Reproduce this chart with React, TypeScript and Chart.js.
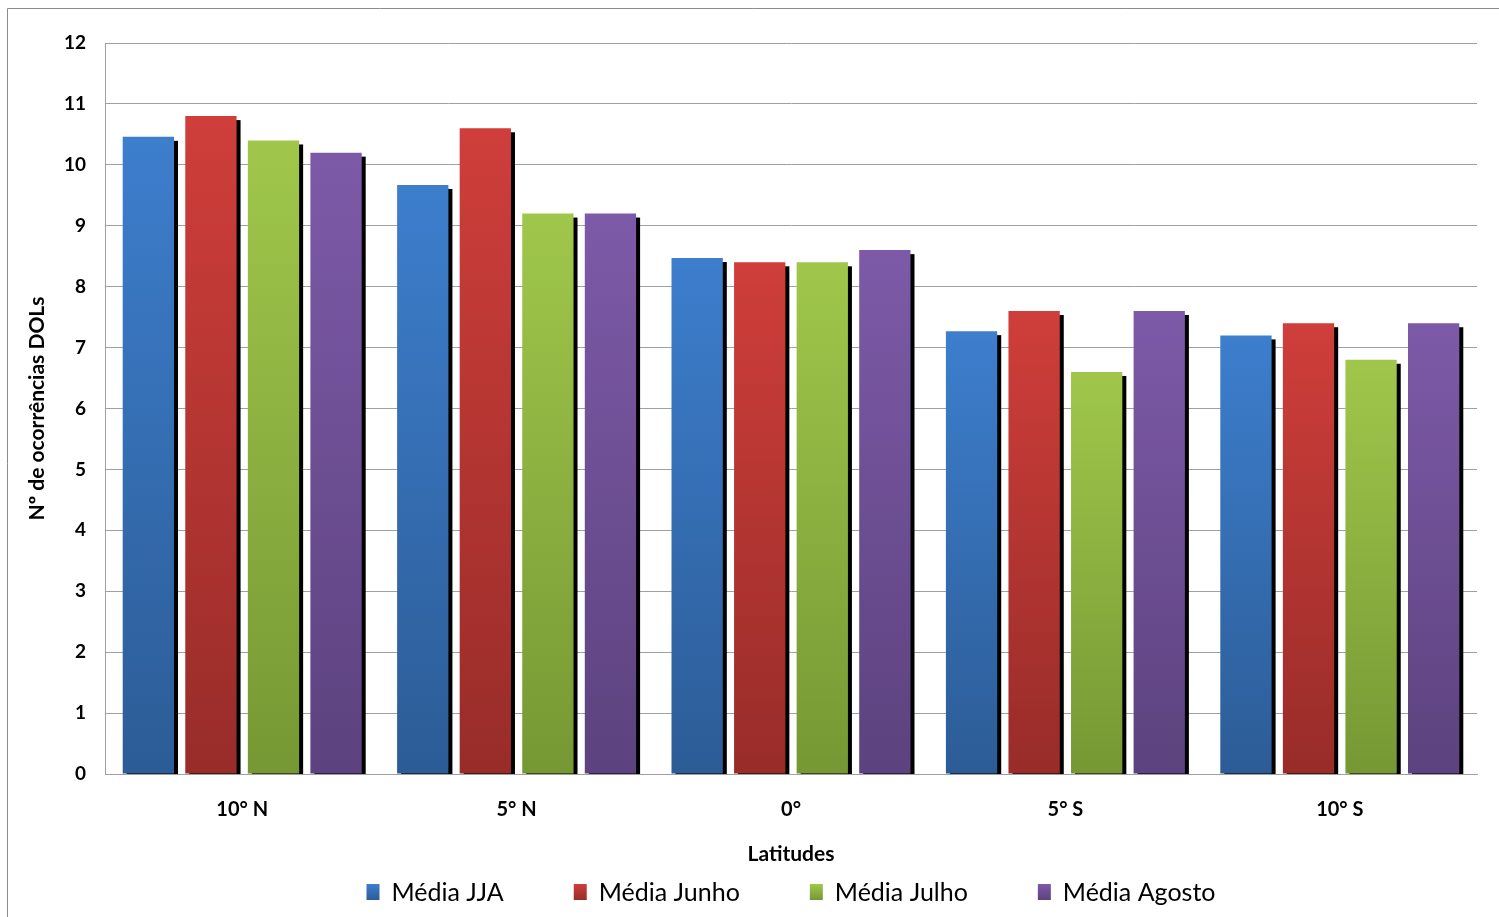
import React, { useEffect, useRef } from "react";
import { Chart, registerables } from "chart.js";

Chart.register(...registerables);

const categories = ["10° N", "5° N", "0°", "5° S", "10° S"];
const seriesNames = ["Média JJA", "Média Junho", "Média Julho", "Média Agosto"];
const mediaJJA = [10.46, 9.67, 8.47, 7.27, 7.2];
const mediaJunho = [10.8, 10.6, 8.4, 7.6, 7.4];
const mediaJulho = [10.4, 9.2, 8.4, 6.6, 6.8];
const mediaAgosto = [10.2, 9.2, 8.6, 7.6, 7.4];
const yTicks = [0, 1, 2, 3, 4, 5, 6, 7, 8, 9, 10, 11, 12];

const seriesValues = [mediaJJA, mediaJunho, mediaJulho, mediaAgosto];
const colorTop = ["#3D7ECD", "#CF3E3A", "#A0C74B", "#7D5AA8"];
const colorBottom = ["#2C5C96", "#982C29", "#769834", "#5C427E"];

const FONT = "Lato, 'Open Sans', sans-serif";

function grad(ctx: CanvasRenderingContext2D, top: number, bottom: number, i: number) {
  const g = ctx.createLinearGradient(0, top, 0, bottom);
  g.addColorStop(0, colorTop[i]);
  g.addColorStop(1, colorBottom[i]);
  return g;
}

const shadowPlugin = {
  id: "barShadow",
  beforeDatasetsDraw(chart: any) {
    const { ctx, chartArea } = chart;
    ctx.save();
    ctx.beginPath();
    ctx.rect(chartArea.left, chartArea.top, chartArea.right - chartArea.left, chartArea.bottom - chartArea.top);
    ctx.clip();
    ctx.fillStyle = "#000000";
    chart.data.datasets.forEach((_d: any, di: number) => {
      const meta = chart.getDatasetMeta(di);
      meta.data.forEach((el: any) => {
        const w = el.width;
        const h = el.base - el.y;
        ctx.fillRect(el.x - w / 2 + 4, el.y + 4, w, h);
      });
    });
    ctx.restore();
  },
};

const framePlugin = {
  id: "frameAndLegend",
  afterDraw(chart: any) {
    const { ctx, chartArea } = chart;
    ctx.save();
    ctx.strokeStyle = "#8C8C8C";
    ctx.lineWidth = 1;
    ctx.beginPath();
    ctx.moveTo(7.5, chart.height + 2);
    ctx.lineTo(7.5, 8.5);
    ctx.lineTo(chart.width + 2, 8.5);
    ctx.stroke();

    // legend
    ctx.font = `25px ${FONT}`;
    ctx.textBaseline = "middle";
    const box = 13;
    const boxH = 16;
    const gapText = 12;
    const gapItem = 70;
    const widths = seriesNames.map((n) => ctx.measureText(n).width);
    let total = 0;
    widths.forEach((w, i) => {
      total += box + gapText + w + (i < widths.length - 1 ? gapItem : 0);
    });
    let x = (chartArea.left + chartArea.right) / 2 - total / 2;
    const cy = 892;
    seriesNames.forEach((n, i) => {
      ctx.fillStyle = grad(ctx, cy - boxH / 2, cy + boxH / 2, i);
      ctx.fillRect(x, cy - boxH / 2, box, boxH);
      ctx.fillStyle = "#000000";
      ctx.fillText(n, x + box + gapText, cy + 1);
      x += box + gapText + widths[i] + gapItem;
    });
    ctx.restore();
  },
};

export default function App() {
  const ref = useRef<HTMLCanvasElement | null>(null);
  useEffect(() => {
    if (!ref.current) return;
    Chart.defaults.font.family = FONT;
    const chart = new Chart(ref.current, {
      type: "bar",
      data: {
        labels: categories,
        datasets: seriesValues.map((vals, i) => ({
          label: seriesNames[i],
          data: vals,
          backgroundColor: (c: any) => {
            const ch = c.chart;
            if (!ch.chartArea || c.parsed == null) return colorTop[i];
            const ys = ch.scales.y;
            const top = ys.getPixelForValue(c.parsed.y);
            const bottom = ys.getPixelForValue(0);
            return grad(ch.ctx, top, bottom, i);
          },
          borderWidth: 0,
          categoryPercentage: 0.912,
          barPercentage: 0.82,
        })),
      },
      options: {
        responsive: false,
        animation: false,
        devicePixelRatio: 1,
        layout: { padding: { left: 0, top: 43, right: 22, bottom: 0 } },
        plugins: {
          legend: { display: false },
          tooltip: { enabled: false },
        },
        scales: {
          x: {
            grid: { display: false, drawTicks: false },
            border: { display: true, color: "#A0A0A0", width: 1 },
            ticks: {
              color: "#000000",
              font: { size: 20, weight: "bold", family: FONT },
              padding: 24,
            },
            title: {
              display: true,
              text: "Latitudes",
              color: "#000000",
              font: { size: 21, weight: "bold", family: FONT },
              padding: { top: 0, bottom: 50 },
            },
            afterFit: (s: any) => {
              s.height = 143;
            },
          },
          y: {
            min: 0,
            max: 12,
            afterBuildTicks: (s: any) => {
              s.ticks = yTicks.map((v) => ({ value: v }));
            },
            grid: { color: "#A0A0A0", drawTicks: false, lineWidth: 1 },
            border: { display: true, color: "#A0A0A0", width: 1 },
            ticks: {
              color: "#000000",
              font: { size: 19, weight: "bold", family: FONT },
              padding: 19,
            },
            title: {
              display: true,
              text: "Nº de ocorrências DOLs",
              color: "#000000",
              font: { size: 21, weight: "bold", family: FONT },
              padding: { top: 25, bottom: 0 },
            },
            afterFit: (s: any) => {
              s.width = 105;
            },
          },
        },
      },
      plugins: [shadowPlugin, framePlugin],
    });
    return () => chart.destroy();
  }, []);
  return (
    <div style={{ position: "absolute", left: 0, top: 0, width: 1499, height: 917, overflow: "hidden", background: "#ffffff" }}>
      <canvas ref={ref} width={1499} height={917} style={{ display: "block" }} />
    </div>
  );
}
